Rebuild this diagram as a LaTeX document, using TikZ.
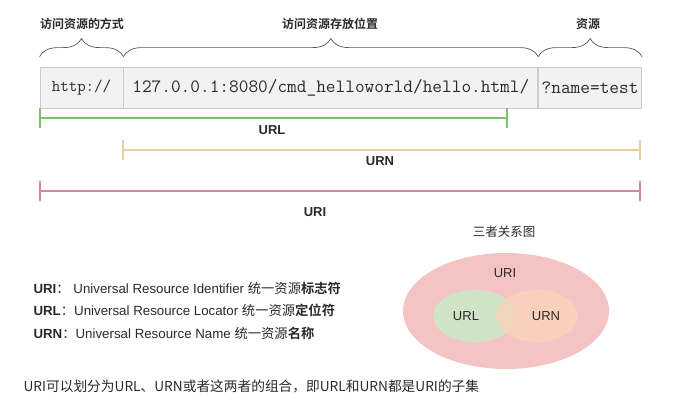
\documentclass[tikz,border=0pt]{standalone}
\usepackage{fontspec}
\setmainfont{Liberation Sans}
\newfontfamily\cjk{Noto Sans CJK SC}[BoldFont={Noto Sans CJK SC Bold}]
\usetikzlibrary{positioning,arrows.meta,decorations.pathreplacing}
\definecolor{cellfill}{HTML}{F2F2F2}
\definecolor{cellline}{HTML}{CCCCCC}
\definecolor{urlc}{HTML}{7DC36B}
\definecolor{urnc}{HTML}{E8CF9C}
\definecolor{uric}{HTML}{D58A92}
\definecolor{vpink}{HTML}{F4C3C3}
\definecolor{vgreen}{HTML}{CFE4C7}
\definecolor{vpeach}{HTML}{F9D4B9}
\definecolor{ink}{HTML}{2A2A2A}

\begin{document}
\begin{tikzpicture}[x=1pt,y=-1pt,text=ink,
  cell/.style={draw=cellline,fill=cellfill,line width=0.8pt,minimum height=41pt,inner sep=0pt,font=\ttfamily\fontsize{18.8}{20}\selectfont},
  brc/.style={draw=ink!80,line width=0.7pt,decorate,decoration={brace,amplitude=18pt,aspect=0.5}},
  bar/.style={line width=1.2pt},
  barlbl/.style={font=\bfseries\fontsize{13}{15}\selectfont},
  head/.style={font=\cjk\bfseries\fontsize{12}{14}\selectfont},
  defn/.style={anchor=west,font=\fontsize{13.3}{15}\selectfont}]
 \useasboundingbox (0,0) rectangle (673,400);
 
 \node[cell,minimum width=83pt,font=\ttfamily\fontsize{16.5}{18}\selectfont] (proto) at (81.5,87.5) {http://}; %cells
 \node[cell,minimum width=414pt,right=0pt of proto] (loc) {127.0.0.1:8080/cmd\_helloworld/hello.html/};
 \node[cell,minimum width=103pt,right=0pt of loc] (res) {?name=test};
 
 \draw[brc] ([yshift=10pt]proto.north west)--([yshift=10pt]proto.north east); %braces
 \draw[brc] ([yshift=10pt]loc.north west)--([yshift=10pt]loc.north east);
 \draw[brc] ([yshift=10pt]res.north west)--([yshift=10pt]res.north east);
 \node[head] (hproto) at (82,24) {访问资源的方式};
 \node[head] (hloc) at (330,24) {访问资源存放位置};
 \node[head] (hres) at (588,24) {资源};
 
 \coordinate (urlA) at (40,118); \coordinate (urlB) at (507,118);
 \coordinate (urnA) at (123,150); \coordinate (urnB) at (640,150);
 \coordinate (uriA) at (40,191); \coordinate (uriB) at (640,191);
 \foreach \a/\b/\c in {urlA/urlB/urlc,urnA/urnB/urnc,uriA/uriB/uric}
   \draw[bar,\c] (\a)--(\b) ([yshift=10pt]\a)--([yshift=-10pt]\a) ([yshift=10pt]\b)--([yshift=-10pt]\b); %bars
 \node[barlbl] (lurl) at (272,130) {URL};
 \node[barlbl] (lurn) at (380,161) {URN};
 \node[barlbl] (luri) at (315,212) {URI};
 
 \node[defn] (duri) at (30,288) {\textbf{URI}{\cjk ：} Universal Resource Identifier {\cjk 统一资源\textbf{标志符}}};
 \node[defn] (durl) at (30,310) {\textbf{URL}{\cjk ：}Universal Resource Locator {\cjk 统一资源\textbf{定位符}}};
 \node[defn] (durn) at (30,333) {\textbf{URN}{\cjk ：}Universal Resource Name {\cjk 统一资源\textbf{名称}}};
 
 \node[font=\cjk\fontsize{12.5}{14}\selectfont] (vtitle) at (504,232) {三者关系图}; %venn
 \fill[vpink] (506,311) ellipse [x radius=103, y radius=58];
 \fill[vgreen] (475,316) ellipse [x radius=42, y radius=26];
 \fill[vpeach,opacity=0.8] (537,316) ellipse [x radius=41, y radius=26];
 \node[font=\fontsize{13}{15}\selectfont] (vuri) at (505,273) {URI};
 \node[font=\fontsize{13}{15}\selectfont] (vurl) at (466,316) {URL};
 \node[font=\fontsize{13}{15}\selectfont] (vurn) at (546,316) {URN};
 
 \node[anchor=west,font=\cjk\fontsize{13.7}{15}\selectfont] (note) at (20,386) {URI可以划分为URL、URN或者这两者的组合，即URL和URN都是URI的子集};
\end{tikzpicture}
\end{document}
